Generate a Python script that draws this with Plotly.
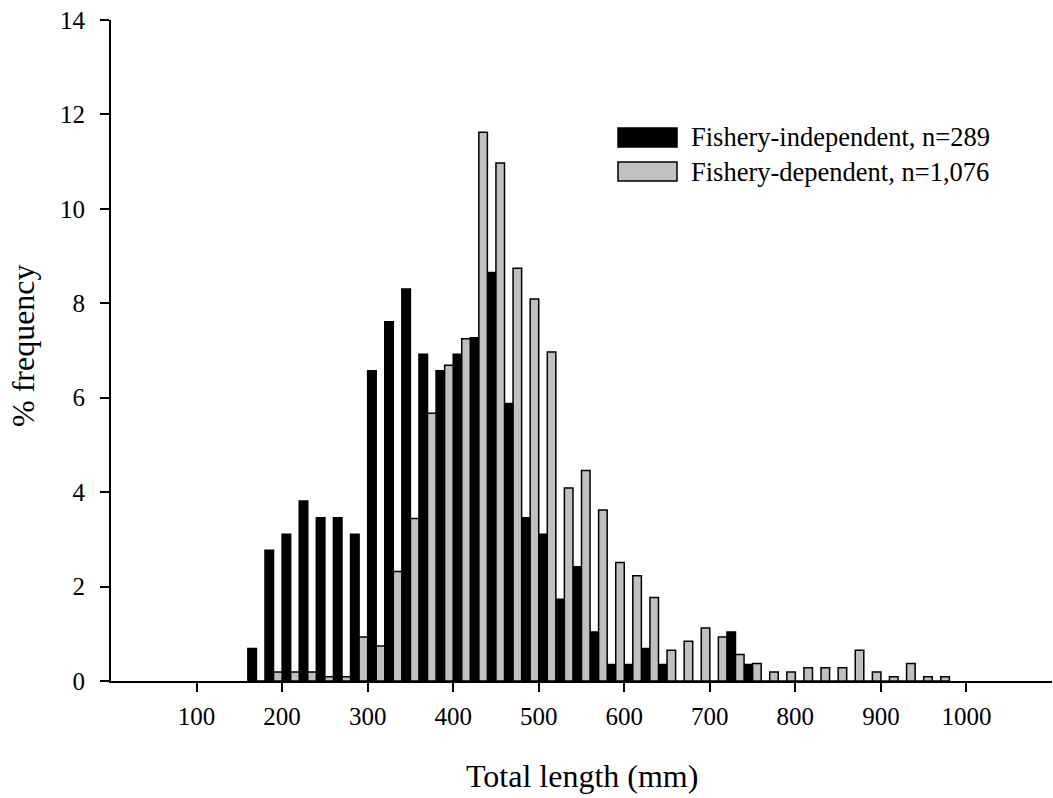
import plotly.graph_objects as go

# Length bins (lower edge, mm), 20-mm classes
bins = [160, 180, 200, 220, 240, 260, 280, 300, 320, 340, 360, 380, 400, 420, 440,
        460, 480, 500, 520, 540, 560, 580, 600, 620, 640, 660, 680, 700, 720, 740,
        760, 780, 800, 820, 840, 860, 880, 900, 920, 940, 960]

# % frequency, fishery-independent (n=289)
indep = [0.69, 2.77, 3.11, 3.81, 3.46, 3.46, 3.11, 6.57, 7.61, 8.30, 6.92, 6.57, 6.92, 7.27, 8.65,
         5.88, 3.46, 3.11, 1.73, 2.42, 1.04, 0.35, 0.35, 0.69, 0.35, 0.0, 0.0, 0.0, 1.04, 0.35,
         0.0, 0.0, 0.0, 0.0, 0.0, 0.0, 0.0, 0.0, 0.0, 0.0, 0.0]

# % frequency, fishery-dependent (n=1,076)
dep = [0.0, 0.19, 0.19, 0.19, 0.09, 0.09, 0.93, 0.74, 2.32, 3.44, 5.67, 6.69, 7.25, 11.62, 10.97,
       8.74, 8.09, 6.97, 4.09, 4.46, 3.62, 2.51, 2.23, 1.77, 0.65, 0.84, 1.12, 0.93, 0.56, 0.37,
       0.19, 0.19, 0.28, 0.28, 0.28, 0.65, 0.19, 0.09, 0.37, 0.09, 0.09]

xticks = [100, 200, 300, 400, 500, 600, 700, 800, 900, 1000]
yticks = [0, 2, 4, 6, 8, 10, 12, 14]

names = ["Fishery-independent, n=289", "Fishery-dependent, n=1,076"]
fills = ["#000000", "#c0c0c0"]

FONT = "Liberation Serif, Times New Roman, serif"

fig = go.Figure()
fig.add_trace(go.Bar(x=bins, y=indep, width=10, offset=0, name=names[0],
                     marker=dict(color=fills[0], line=dict(color="black", width=1.5)),
                     showlegend=False))
fig.add_trace(go.Bar(x=bins, y=dep, width=10, offset=10, name=names[1],
                     marker=dict(color=fills[1], line=dict(color="black", width=1.5)),
                     showlegend=False))

# custom legend (boxes + labels in paper coordinates)
W, H = 1053, 798
ml, mr, mt, mb = 111, 1, 20, 117
pw, ph = W - ml - mr, H - mt - mb
def px2paper_x(px):
    return (px - ml) / pw
def px2paper_y(py):
    return 1 - (py - mt) / ph

legend_rows = [(128, 147), (162, 181)]
for (y0, y1), nm, fc in zip(legend_rows, names, fills):
    fig.add_shape(type="rect", xref="paper", yref="paper",
                  x0=px2paper_x(618), x1=px2paper_x(677),
                  y0=px2paper_y(y1), y1=px2paper_y(y0),
                  fillcolor=fc, line=dict(color="black", width=1.5))
    fig.add_annotation(xref="paper", yref="paper", x=px2paper_x(689),
                       y=px2paper_y((y0 + y1) / 2), text=nm, showarrow=False,
                       xanchor="left", yanchor="middle",
                       font=dict(family=FONT, size=26.5, color="black"))

# axis titles
fig.add_annotation(xref="paper", yref="paper", x=px2paper_x(582), y=px2paper_y(776),
                   text="Total length (mm)", showarrow=False, xanchor="center", yanchor="middle",
                   font=dict(family=FONT, size=32, color="black"))
fig.add_annotation(xref="paper", yref="paper", x=px2paper_x(23), y=px2paper_y(346),
                   text="% frequency", showarrow=False, textangle=-90,
                   xanchor="center", yanchor="middle",
                   font=dict(family=FONT, size=32, color="black"))

fig.update_layout(
    width=W, height=H,
    margin=dict(l=ml, r=mr, t=mt, b=mb),
    paper_bgcolor="white", plot_bgcolor="white",
    barmode="overlay",
    font=dict(family=FONT, color="black", size=25),
    xaxis=dict(range=[0, 1100], tickvals=xticks, ticks="outside", ticklen=9, tickwidth=2,
               tickcolor="black", showline=True, linecolor="black", linewidth=2,
               showgrid=False, zeroline=False, tickfont=dict(size=25), ticklabelstandoff=3),
    yaxis=dict(range=[0, 14], tickvals=yticks, ticks="outside", ticklen=9, tickwidth=2,
               tickcolor="black", showline=True, linecolor="black", linewidth=2,
               showgrid=False, zeroline=False, tickfont=dict(size=25), ticklabelstandoff=10),
)

fig.write_html("out.html")
